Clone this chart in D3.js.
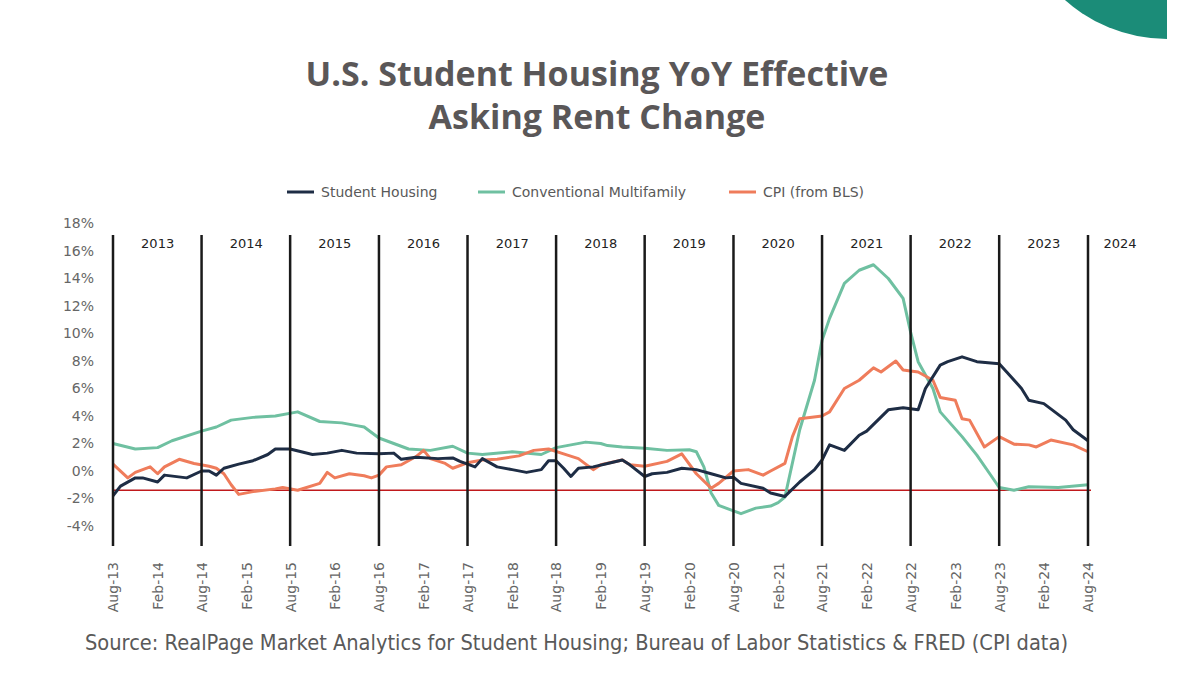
<!DOCTYPE html>
<html>
<head>
<meta charset="utf-8">
<script src="https://cdn.jsdelivr.net/npm/d3@7"></script>
<style>
  body { margin: 0; background: #fff; }
  svg { display: block; }
</style>
</head>
<body>
<svg id="chart" width="1200" height="690"></svg>
<script>
// values, [month, % yoy]
var studentHousing = [
  ["2013-08",-1.8],["2013-09",-1.1],["2013-11",-0.5],["2013-12",-0.5],["2014-02",-0.8],["2014-03",-0.3],
  ["2014-06",-0.5],["2014-08",0.0],["2014-09",0.0],["2014-10",-0.3],["2014-11",0.2],["2015-01",0.5],
  ["2015-03",0.75],["2015-05",1.2],["2015-06",1.6],["2015-08",1.6],["2015-11",1.2],["2016-01",1.3],
  ["2016-03",1.5],["2016-05",1.3],["2016-08",1.25],["2016-10",1.3],["2016-11",0.85],["2017-01",1.0],
  ["2017-04",0.9],["2017-06",0.95],["2017-07",0.7],["2017-09",0.3],["2017-10",0.9],["2017-12",0.3],
  ["2018-02",0.1],["2018-04",-0.1],["2018-06",0.1],["2018-07",0.75],["2018-08",0.75],["2018-09",0.2],
  ["2018-10",-0.4],["2018-11",0.2],["2019-01",0.3],["2019-03",0.55],["2019-05",0.8],["2019-06",0.45],
  ["2019-08",-0.4],["2019-09",-0.2],["2019-11",-0.1],["2020-01",0.2],["2020-03",0.1],["2020-05",-0.2],
  ["2020-07",-0.5],["2020-08",-0.45],["2020-09",-0.9],["2020-12",-1.25],["2021-01",-1.6],["2021-03",-1.85],
  ["2021-05",-0.8],["2021-07",0.1],["2021-08",0.8],["2021-09",1.9],["2021-11",1.5],["2022-01",2.6],
  ["2022-02",2.9],["2022-05",4.45],["2022-07",4.6],["2022-09",4.45],["2022-10",6.0],["2022-12",7.7],
  ["2023-01",7.95],["2023-03",8.3],["2023-05",7.95],["2023-08",7.8],["2023-09",7.2],["2023-11",6.0],
  ["2023-12",5.15],["2024-02",4.9],["2024-05",3.7],["2024-06",3.0],["2024-08",2.2]
];
var conventionalMF = [
  ["2013-08",2.0],["2013-11",1.6],["2014-02",1.7],["2014-04",2.2],["2014-08",2.9],["2014-10",3.2],
  ["2014-12",3.7],["2015-03",3.9],["2015-06",4.0],["2015-09",4.3],["2015-12",3.6],["2016-03",3.5],
  ["2016-05",3.3],["2016-06",3.2],["2016-08",2.4],["2016-10",2.0],["2016-12",1.6],["2017-03",1.5],
  ["2017-06",1.8],["2017-08",1.3],["2017-10",1.2],["2018-02",1.4],["2018-06",1.2],["2018-08",1.7],
  ["2018-12",2.1],["2019-02",2.0],["2019-03",1.85],["2019-05",1.75],["2019-08",1.65],["2019-11",1.5],
  ["2020-02",1.55],["2020-03",1.4],["2020-04",0.3],["2020-05",-1.6],["2020-06",-2.5],["2020-08",-2.9],
  ["2020-09",-3.1],["2020-11",-2.7],["2021-01",-2.55],["2021-02",-2.3],["2021-03",-1.9],["2021-05",3.0],
  ["2021-07",6.6],["2021-08",9.5],["2021-09",11.1],["2021-11",13.65],["2022-01",14.6],["2022-03",15.0],
  ["2022-05",14.0],["2022-07",12.55],["2022-08",10.1],["2022-09",7.95],["2022-11",6.0],["2022-12",4.3],
  ["2023-03",2.5],["2023-05",1.15],["2023-07",-0.4],["2023-08",-1.2],["2023-10",-1.4],["2023-12",-1.15],
  ["2024-04",-1.2],["2024-08",-1.0]
];
var cpi = [
  ["2013-08",0.5],["2013-10",-0.5],["2013-11",-0.1],["2014-01",0.3],["2014-02",-0.2],["2014-03",0.3],
  ["2014-05",0.85],["2014-07",0.55],["2014-09",0.35],["2014-10",0.2],["2014-11",-0.2],["2014-12",-1.0],
  ["2015-01",-1.7],["2015-03",-1.5],["2015-06",-1.3],["2015-07",-1.2],["2015-09",-1.4],["2015-12",-0.9],
  ["2016-01",-0.1],["2016-02",-0.5],["2016-04",-0.2],["2016-06",-0.35],["2016-07",-0.5],["2016-08",-0.3],
  ["2016-09",0.3],["2016-11",0.45],["2017-01",1.05],["2017-02",1.5],["2017-03",0.9],["2017-05",0.55],
  ["2017-06",0.2],["2017-08",0.6],["2017-10",0.8],["2017-12",0.85],["2018-03",1.1],["2018-05",1.5],
  ["2018-07",1.6],["2018-09",1.25],["2018-11",0.9],["2018-12",0.5],["2019-01",0.1],["2019-02",0.45],
  ["2019-05",0.8],["2019-06",0.45],["2019-08",0.35],["2019-11",0.7],["2020-01",1.25],["2020-03",-0.2],
  ["2020-05",-1.25],["2020-06",-0.9],["2020-08",0.0],["2020-10",0.1],["2020-12",-0.3],["2021-01",0.0],
  ["2021-03",0.55],["2021-04",2.5],["2021-05",3.8],["2021-08",4.0],["2021-09",4.3],["2021-11",6.0],
  ["2022-01",6.6],["2022-03",7.5],["2022-04",7.2],["2022-06",8.0],["2022-07",7.35],["2022-09",7.2],
  ["2022-11",6.6],["2022-12",5.35],["2023-02",5.15],["2023-03",3.8],["2023-04",3.7],["2023-06",1.75],
  ["2023-08",2.5],["2023-10",1.95],["2023-12",1.9],["2024-01",1.75],["2024-03",2.25],["2024-06",1.9],
  ["2024-08",1.4]
];

var yTicks = [-4,-2,0,2,4,6,8,10,12,14,16,18];
var xTickLabels = ["Aug-13","Feb-14","Aug-14","Feb-15","Aug-15","Feb-16","Aug-16","Feb-17","Aug-17","Feb-18","Aug-18","Feb-19",
  "Aug-19","Feb-20","Aug-20","Feb-21","Aug-21","Feb-22","Aug-22","Feb-23","Aug-23","Feb-24","Aug-24"];
var years = [2013,2014,2015,2016,2017,2018,2019,2020,2021,2022,2023,2024];
var baseLine = -1.4;   // the thin red rule

var series = [
  {name:"Student Housing", data:studentHousing, color:"#1e2d45"},
  {name:"Conventional Multifamily", data:conventionalMF, color:"#6fc0a1"},
  {name:"CPI (from BLS)", data:cpi, color:"#ef7c5b"}
];

var parse = d3.timeParse("%Y-%m");
var parseTick = d3.timeParse("%b-%y");

var svg = d3.select("#chart");

var x = d3.scaleTime()
  .domain([parse("2013-08"), parse("2024-08")])
  .range([113, 1088]);
var y = d3.scaleLinear()
  .domain([-4, 16])
  .range([526, 251]);

// corner decoration
svg.append("clipPath").attr("id","cornerclip")
  .append("rect").attr("x",0).attr("y",0).attr("width",1167).attr("height",60);
svg.append("circle")
  .attr("cx",1167).attr("cy",-114).attr("r",153)
  .attr("fill","#1b8c78")
  .attr("clip-path","url(#cornerclip)");

// title
svg.append("text")
  .attr("x",597).attr("y",86)
  .attr("text-anchor","middle")
  .style("font-family","'Open Sans', sans-serif")
  .style("font-weight","bold")
  .style("font-size","34px")
  .style("fill","#5a5758")
  .text("U.S. Student Housing YoY Effective");
svg.append("text")
  .attr("x",597).attr("y",129)
  .attr("text-anchor","middle")
  .style("font-family","'Open Sans', sans-serif")
  .style("font-weight","bold")
  .style("font-size","34px")
  .style("fill","#5a5758")
  .text("Asking Rent Change");

// legend
var legendX = [287, 478, 729];
var lg = svg.append("g").attr("class","legend");
series.forEach(function(s, i){
  lg.append("line")
    .attr("x1",legendX[i]).attr("x2",legendX[i]+27)
    .attr("y1",192).attr("y2",192)
    .attr("stroke",s.color).attr("stroke-width",3);
  lg.append("text")
    .attr("x",legendX[i]+34).attr("y",197)
    .style("font-family","'DejaVu Sans', sans-serif")
    .style("font-size","14px")
    .style("fill","#595959")
    .text(s.name);
});

// y axis labels
var yAxis = d3.axisLeft(y).tickValues(yTicks).tickSize(0).tickFormat(function(d){ return d + "%"; });
svg.append("g")
  .attr("transform","translate(97,0)")
  .call(yAxis)
  .call(function(g){ g.select(".domain").remove(); })
  .selectAll("text")
  .style("font-family","'DejaVu Sans', sans-serif")
  .style("font-size","14px")
  .style("fill","#666");

// x axis labels, rotated
var xAxis = d3.axisBottom(x)
  .tickValues(xTickLabels.map(function(t){ return parseTick(t); }))
  .tickSize(0)
  .tickFormat(d3.timeFormat("%b-%y"));
var xg = svg.append("g")
  .attr("transform","translate(0,560)")
  .call(xAxis)
  .call(function(g){ g.select(".domain").remove(); });
xg.selectAll("text")
  .attr("transform","rotate(-90)")
  .attr("text-anchor","end")
  .attr("x",-2).attr("y",0).attr("dy","0.35em")
  .style("font-family","'DejaVu Sans', sans-serif")
  .style("font-size","14px")
  .style("fill","#666");

// red reference rule
svg.append("line")
  .attr("x1",x(parse("2013-08"))).attr("x2",x(parse("2024-08"))+3)
  .attr("y1",y(baseLine)).attr("y2",y(baseLine))
  .attr("stroke","#c0191c").attr("stroke-width",1.3);

// series lines
var line = d3.line()
  .x(function(d){ return x(parse(d[0])); })
  .y(function(d){ return y(d[1]); });

[1,2,0].forEach(function(i){
  svg.append("path")
    .datum(series[i].data)
    .attr("fill","none")
    .attr("stroke",series[i].color)
    .attr("stroke-width",3)
    .attr("stroke-linejoin","round")
    .attr("d",line);
});

// year dividers + labels
years.forEach(function(yr){
  var xd = x(parse(yr + "-08"));
  svg.append("line")
    .attr("x1",xd).attr("x2",xd)
    .attr("y1",235).attr("y2",546)
    .attr("stroke","#1a1a1a").attr("stroke-width",2.5);
  var lx = yr < 2024 ? x(parse((yr+1) + "-02")) : xd + 32;
  svg.append("text")
    .attr("x",lx).attr("y",248)
    .attr("text-anchor","middle")
    .style("font-family","'DejaVu Sans', sans-serif")
    .style("font-size","13px")
    .style("fill","#222")
    .text(yr);
});

// source note
svg.append("text")
  .attr("x",85).attr("y",650)
  .attr("textLength",983)
  .attr("lengthAdjust","spacingAndGlyphs")
  .style("font-family","'DejaVu Sans', sans-serif")
  .style("font-size","21px")
  .style("fill","#595959")
  .text("Source: RealPage Market Analytics for Student Housing; Bureau of Labor Statistics & FRED (CPI data)");
</script>
</body>
</html>
